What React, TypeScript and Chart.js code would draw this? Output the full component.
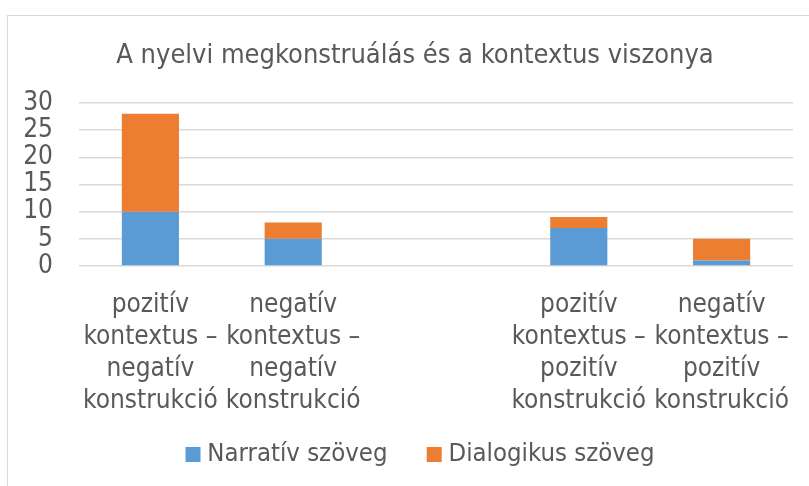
import React, { useEffect, useRef } from "react";
import { Chart, registerables } from "chart.js";

Chart.register(...registerables);

const categories: (string | string[])[] = [
  ["pozitív", "kontextus –", "negatív", "konstrukció"],
  ["negatív", "kontextus –", "negatív", "konstrukció"],
  "",
  ["pozitív", "kontextus –", "pozitív", "konstrukció"],
  ["negatív", "kontextus –", "pozitív", "konstrukció"],
];
const narrativ: (number | null)[] = [10, 5, null, 7, 1];
const dialogikus: (number | null)[] = [18, 3, null, 2, 4];
const seriesNames = ["Narratív szöveg", "Dialogikus szöveg"];
const title = "A nyelvi megkonstruálás és a kontextus viszonya";

const FONT = "'DejaVu Sans Condensed', 'DejaVu Sans', sans-serif";
const TEXT = "#595959";

// centre the title and legend where the reference has them
const centerPlugin = {
  id: "centerBlocks",
  afterLayout(chart: any) {
    const t = chart.titleBlock;
    if (t) {
      const w = t.right - t.left;
      t.left = 415 - w / 2;
      t.right = 415 + w / 2;
    }
    const l = chart.legend;
    if (l) {
      const w = l.right - l.left;
      l.left = 423 - w / 2;
      l.right = 423 + w / 2;
    }
  },
};

export default function App() {
  const ref = useRef<HTMLCanvasElement | null>(null);
  useEffect(() => {
    if (!ref.current) return;
    const chart = new Chart(ref.current, {
      type: "bar",
      data: {
        labels: categories,
        datasets: [
          { label: seriesNames[0], data: narrativ, backgroundColor: "#5B9BD5", barPercentage: 0.4, categoryPercentage: 1 },
          { label: seriesNames[1], data: dialogikus, backgroundColor: "#ED7D31", barPercentage: 0.4, categoryPercentage: 1 },
        ],
      },
      plugins: [centerPlugin],
      options: {
        animation: false,
        responsive: false,
        maintainAspectRatio: false,
        layout: { padding: { left: 0, right: 16, top: 0, bottom: 8.75 } },
        plugins: {
          tooltip: { enabled: false },
          title: {
            display: true,
            text: title,
            color: TEXT,
            font: { family: FONT, size: 27, weight: "normal" },
            padding: { top: 40, bottom: 30.5 },
          },
          legend: {
            position: "bottom",
            labels: {
              color: TEXT,
              font: { family: FONT, size: 25.5 },
              usePointStyle: true,
              pointStyle: "rect",
              boxWidth: 3,
              boxHeight: 15,
              padding: 45.25,
            },
          },
        },
        scales: {
          x: {
            stacked: true,
            grid: { display: false, drawTicks: false },
            border: { display: false },
            ticks: {
              color: TEXT,
              font: { family: FONT, size: 26, lineHeight: 1.23 },
              padding: 23.5,
              maxRotation: 0,
              autoSkip: false,
            },
            afterFit: (s: any) => {
              s.height = 130.5;
              s.paddingLeft = 0;
              s.paddingRight = 0;
              s._computeLabelArea = () => undefined;
            },
          },
          y: {
            stacked: true,
            min: 0,
            max: 30,
            grid: { color: "#d9d9d9", lineWidth: 1.5, drawTicks: false },
            border: { display: false },
            ticks: {
              stepSize: 5,
              autoSkip: false,
              color: TEXT,
              font: { family: FONT, size: 26 },
              padding: 26,
            },
            afterFit: (s: any) => {
              s.width = 79;
              s._computeLabelArea = () => undefined;
            },
          },
        },
      },
    });
    return () => chart.destroy();
  }, []);
  return (
    <div style={{ position: "absolute", left: 0, top: 0, width: 809, height: 486, overflow: "hidden", background: "#fff" }}>
      <div
        style={{
          position: "absolute",
          left: 7,
          top: 15,
          width: 900,
          height: 700,
          border: "1.5px solid #d9d9d9",
          boxSizing: "border-box",
        }}
      />
      <canvas ref={ref} width={809} height={486} style={{ position: "absolute", left: 0, top: 0, width: 809, height: 486 }} />
    </div>
  );
}
